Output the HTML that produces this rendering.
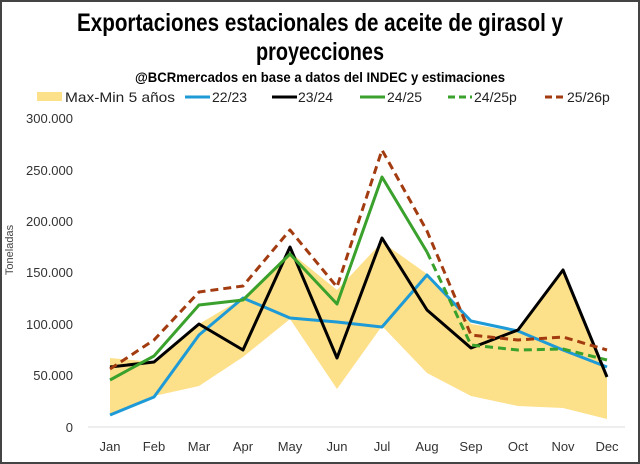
<!DOCTYPE html>
<html><head><style>
body{margin:0;background:#fff}
svg{display:block}
text{font-family:"Liberation Sans",sans-serif}
</style></head><body>
<svg width="640" height="464" viewBox="0 0 640 464">
<rect x="1" y="1" width="638" height="462" fill="#fff" stroke="#444" stroke-width="2"/>
<text x="320" y="31" text-anchor="middle" font-size="25" font-weight="bold" textLength="486" lengthAdjust="spacingAndGlyphs">Exportaciones estacionales de aceite de girasol y</text>
<text x="320" y="60" text-anchor="middle" font-size="25" font-weight="bold" textLength="128" lengthAdjust="spacingAndGlyphs">proyecciones</text>
<text x="320" y="82" text-anchor="middle" font-size="14" font-weight="bold" textLength="370" lengthAdjust="spacingAndGlyphs">@BCRmercados en base a datos del INDEC y estimaciones</text>
<g font-size="14" fill="#222">
<rect x="37" y="92" width="25" height="9" fill="#fde08a"/><text x="65" y="102" textLength="110" lengthAdjust="spacingAndGlyphs">Max-Min 5 años</text>
<line x1="185" y1="97" x2="210" y2="97" stroke="#1e9ad6" stroke-width="3"/><text x="212" y="102">22/23</text>
<line x1="272" y1="97" x2="297" y2="97" stroke="#000" stroke-width="3"/><text x="298" y="102">23/24</text>
<line x1="360" y1="97" x2="385" y2="97" stroke="#3aa12c" stroke-width="3"/><text x="387" y="102">24/25</text>
<line x1="448" y1="97" x2="472" y2="97" stroke="#3aa12c" stroke-width="3" stroke-dasharray="7,4"/><text x="474" y="102">24/25p</text>
<line x1="545" y1="97" x2="566" y2="97" stroke="#a33b10" stroke-width="3" stroke-dasharray="7,4"/><text x="567" y="102">25/26p</text>
</g>
<g font-size="13" fill="#333" text-anchor="end">
<text x="73" y="123">300.000</text><text x="73" y="175">250.000</text><text x="73" y="226">200.000</text>
<text x="73" y="277">150.000</text><text x="73" y="329">100.000</text><text x="73" y="380">50.000</text><text x="73" y="432">0</text>
</g>
<text transform="translate(13,250) rotate(-90)" font-size="11" fill="#444" text-anchor="middle">Toneladas</text>
<line x1="88" y1="427" x2="625" y2="427" stroke="#ddd"/>
<polygon fill="#fde08a" points="110,358 154,362 199,324 243,298 290,252 337,290 382,242 427,274 471,324 518,332 563,272 607,375 607,419 563,408 518,406 471,396 427,373 382,326 337,389 290,319 243,357 199,386 154,396 110,415"/>
<g fill="none" stroke-width="3" stroke-linejoin="round">
<polyline stroke="#1e9ad6" points="110,415 154,397 199,335 243,298 290,318 337,322 382,327 427,275 471,321 518,331 563,350 607,367"/>
<polyline stroke="#000" points="110,367 154,362 199,324 243,350 290,247 337,358 382,238 427,310 471,348 518,330 563,270 607,377"/>
<polyline stroke="#3aa12c" points="110,380 154,356 199,305 243,300 290,254 337,304 382,177 427,252"/>
<polyline stroke="#3aa12c" stroke-dasharray="8,5" points="427,252 471,345 518,350 563,349 607,360"/>
<polyline stroke="#a33b10" stroke-dasharray="8,5" points="110,369 154,340 199,292 243,286 290,230 337,287 382,150 427,231 471,335 518,340 563,337 607,350"/>
</g>
<g font-size="13" fill="#333" text-anchor="middle">
<text x="110" y="451">Jan</text><text x="154" y="451">Feb</text><text x="199" y="451">Mar</text><text x="243" y="451">Apr</text>
<text x="290" y="451">May</text><text x="337" y="451">Jun</text><text x="382" y="451">Jul</text><text x="427" y="451">Aug</text>
<text x="471" y="451">Sep</text><text x="518" y="451">Oct</text><text x="563" y="451">Nov</text><text x="607" y="451">Dec</text>
</g>
</svg>
</body></html>
